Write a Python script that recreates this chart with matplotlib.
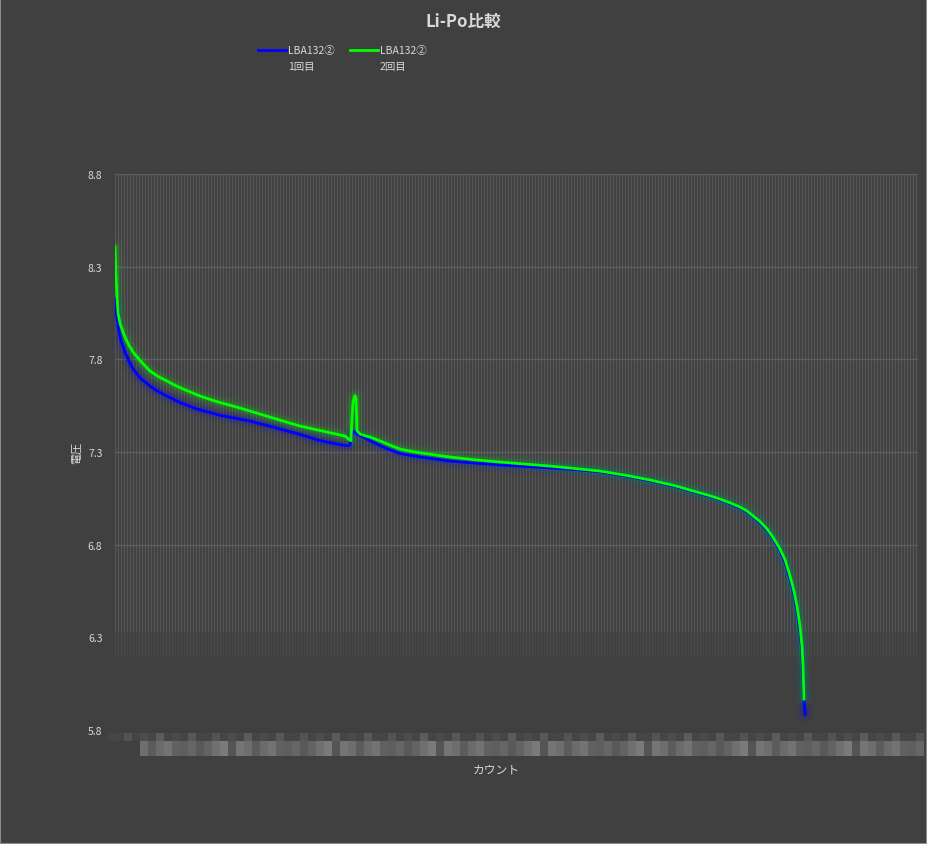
import matplotlib
matplotlib.use('Agg')
import matplotlib.pyplot as plt
from matplotlib.patches import Rectangle
from matplotlib.lines import Line2D

plt.rcParams['font.family'] = ['Noto Sans CJK JP', 'DejaVu Sans']

# sample index (count) and voltage
count_1 = [0, 1, 3, 6, 10, 14, 18, 25, 35, 43, 52, 65, 82, 105, 135, 160, 185,
           205, 225, 233, 235, 237, 239, 242, 250, 255, 270, 285, 300, 320, 335,
           360, 385, 410, 435, 460, 485, 510, 535, 560, 585, 595, 605, 615, 625,
           632, 638, 645, 652, 658, 665, 670, 675, 679, 682, 685, 687, 688, 689, 690]
volt_1 = [8.125, 8.060, 7.980, 7.900, 7.840, 7.790, 7.748, 7.700, 7.656, 7.627,
          7.602, 7.567, 7.532, 7.498, 7.467, 7.432, 7.395, 7.362, 7.340, 7.334,
          7.338, 7.400, 7.410, 7.397, 7.375, 7.361, 7.322, 7.292, 7.277, 7.262,
          7.251, 7.240, 7.230, 7.222, 7.214, 7.205, 7.193, 7.171, 7.145, 7.114,
          7.075, 7.060, 7.042, 7.022, 6.998, 6.977, 6.950, 6.918, 6.878, 6.832,
          6.768, 6.705, 6.615, 6.530, 6.445, 6.330, 6.220, 6.100, 5.970, 5.886]

count_2 = [0, 1, 2, 3, 5, 7, 10, 14, 18, 24, 30, 35, 43, 52, 60, 68, 77, 85, 95,
           103, 120, 135, 160, 185, 210, 230, 235, 236, 237, 238, 240, 241, 242,
           245, 250, 255, 265, 275, 285, 300, 320, 335, 360, 385, 410, 435, 460,
           485, 510, 535, 560, 585, 595, 605, 615, 625, 632, 638, 645, 652, 658,
           665, 670, 675, 679, 682, 685, 687, 688, 689]
volt_2 = [8.406, 8.250, 8.142, 8.050, 7.995, 7.964, 7.920, 7.875, 7.840, 7.800,
          7.765, 7.737, 7.708, 7.683, 7.660, 7.640, 7.620, 7.602, 7.584, 7.570,
          7.545, 7.521, 7.480, 7.440, 7.410, 7.386, 7.364, 7.361, 7.478, 7.570,
          7.604, 7.590, 7.415, 7.397, 7.388, 7.381, 7.360, 7.337, 7.316, 7.300,
          7.284, 7.273, 7.258, 7.246, 7.235, 7.224, 7.211, 7.197, 7.175, 7.149,
          7.118, 7.079, 7.064, 7.046, 7.026, 7.003, 6.982, 6.955, 6.925, 6.885,
          6.840, 6.777, 6.720, 6.631, 6.550, 6.469, 6.360, 6.253, 6.150, 5.967]

labels = [('LBA132②', '1回目'), ('LBA132②', '2回目')]
colors = ['#0000ff', '#00ff00']
y_ticks = [5.8, 6.3, 6.8, 7.3, 7.8, 8.3, 8.8]
n_count = 803

bg = '#404040'
txt = '#d9d9d9'

fig = plt.figure(figsize=(9.27, 8.45), dpi=100, facecolor=bg)
fig.add_artist(Rectangle((0, 0), 1, 1, transform=fig.transFigure, fill=False,
                         edgecolor='#8a8a8a', linewidth=1.5))
ax = fig.add_axes([115 / 927, 1 - 731 / 845, 803 / 927, 556 / 845])
ax.set_facecolor(bg)
ax.set_xlim(0, n_count)
ax.set_ylim(5.8, 8.8)

# dense vertical grid, fading out near the bottom
ax.vlines(range(0, n_count + 1, 3), 6.33, 8.8, color='#565656', linewidth=0.9, zorder=1)
ax.vlines(range(0, n_count + 1, 3), 6.2, 6.33, color='#484848', linewidth=0.9, zorder=1)
ax.hlines([6.8, 7.3, 7.8, 8.3, 8.8], 0, n_count, color='#5e5e5e', linewidth=1, zorder=2)

for xs, ys, c in [(count_1, volt_1, colors[0]), (count_2, volt_2, colors[1])]:
    for w, a in [(12, 0.04), (8, 0.07), (5, 0.12)]:
        ax.plot(xs, ys, color=c, linewidth=w, alpha=a, solid_capstyle='round', zorder=3)
    ax.plot(xs, ys, color=c, linewidth=2.0, zorder=4)

ax.set_yticks(y_ticks)
ax.set_yticklabels([f'{v:.1f}' for v in y_ticks])
ax.set_xticks([])
ax.tick_params(axis='y', length=0, colors=txt, labelsize=7.5, pad=9)
for s in ax.spines.values():
    s.set_visible(False)

fig.text(77 / 927, 1 - 453 / 845, '電圧', rotation=90, color=txt, fontsize=8,
         ha='center', va='center')
fig.text(496 / 927, 1 - 770 / 845, 'カウント', color=txt, fontsize=8.5,
         ha='center', va='center')
fig.text(463 / 927, 1 - 22 / 845, 'Li-Po比較', color=txt, fontsize=12,
         fontweight='bold', ha='center', va='center')

# pixelated (hidden) count labels under the axis
shades = [0.33, 0.40, 0.36, 0.44, 0.38, 0.46, 0.35, 0.42, 0.48, 0.37, 0.43, 0.39, 0.45]
top_row = [0.27, 0.27, 0.33, 0.27, 0.30, 0.27, 0.36, 0.27, 0.29, 0.27, 0.34]
bx = 108
i = 0
while bx < 918:
    s = top_row[i % len(top_row)]
    fig.add_artist(Rectangle((bx / 927, 1 - 742 / 845), 8 / 927, 8 / 845,
                             transform=fig.transFigure, color=(s, s, s), linewidth=0))
    if bx >= 140:
        s2 = shades[(i * 5 + 3) % len(shades)]
        fig.add_artist(Rectangle((bx / 927, 1 - 757 / 845), 8 / 927, 15 / 845,
                                 transform=fig.transFigure, color=(s2, s2, s2), linewidth=0))
    bx += 8
    i += 1

# legend drawn by hand: handle beside the first label line
for (l1, l2), c, x0 in zip(labels, colors, [258, 350]):
    fig.add_artist(Line2D([x0 / 927, (x0 + 28) / 927], [1 - 51 / 845, 1 - 51 / 845],
                          transform=fig.transFigure, color=c, linewidth=2))
    fig.text((x0 + 30) / 927, 1 - 51 / 845, l1, color=txt, fontsize=7.5,
             ha='left', va='center')
    fig.text((x0 + 30) / 927, 1 - 67 / 845, l2, color=txt, fontsize=7.5,
             ha='left', va='center')

fig.savefig('out.png', dpi=100, facecolor=bg)
